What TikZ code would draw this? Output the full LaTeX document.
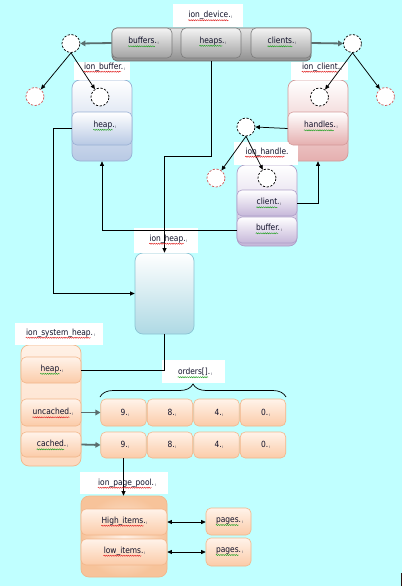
\documentclass[tikz,border=0pt]{standalone}
\usepackage{fontspec}
\setmainfont{DejaVu Sans}[FakeStretch=0.88]
\usetikzlibrary{arrows.meta,decorations.pathreplacing,decorations.pathmorphing}
\definecolor{bg}{HTML}{C0FFFF}
\definecolor{txt}{HTML}{101028}
\definecolor{mkgray}{HTML}{505060}
\definecolor{wred}{HTML}{E02020}
\definecolor{wgreen}{HTML}{20A020}
\definecolor{agray}{HTML}{5A6E6E}
\definecolor{redc}{HTML}{D05858}
\definecolor{bluebot}{HTML}{B8C9E4}
\definecolor{blueedge}{HTML}{98B0D4}
\definecolor{pinkbot}{HTML}{E5AFAF}
\definecolor{pinkedge}{HTML}{D39A9A}
\definecolor{purpbot}{HTML}{C6B7D9}
\definecolor{purpedge}{HTML}{AE9FC9}
\definecolor{tealbot}{HTML}{AED9E4}
\definecolor{tealedge}{HTML}{8AC4D4}
\definecolor{orgtop}{HTML}{FFF3EA}
\definecolor{orgbot}{HTML}{FBCBA8}
\definecolor{orgedge}{HTML}{F2B68A}
\definecolor{systop}{HTML}{FFF1E6}
\definecolor{sysbot}{HTML}{FCD9BF}
\definecolor{poolin}{HTML}{FEF0E6}
\definecolor{poolout}{HTML}{F7C39A}
\definecolor{gbartop}{HTML}{E6E6E6}
\definecolor{gbarbot}{HTML}{8E8E8E}
\definecolor{gbaredge}{HTML}{6E6E6E}
\definecolor{gintop}{HTML}{F4F4F4}
\definecolor{ginbot}{HTML}{A2A2A2}
\definecolor{ginedge}{HTML}{7A7A7A}
\definecolor{artefact}{HTML}{301010}
\newcommand{\mk}{\kern0.7pt\raisebox{-0.8pt}{\fontsize{4.5}{4.5}\selectfont\color{mkgray}ı}}
\begin{document}
\begin{tikzpicture}[x=1pt,y=-1pt,
  tx/.style={inner sep=0.4pt, font=\fontsize{8.5}{9.5}\selectfont, text=txt},
  wavyline/.style={decorate,decoration={snake,amplitude=0.55pt,segment length=2.2pt},line width=0.45pt},
  wv/.style={append after command={([yshift=-2.5pt,xshift=0.3pt]\tikzlastnode.base west) edge[wavyline,draw=#1] ([yshift=-2.5pt,xshift=-4.5pt]\tikzlastnode.base east)}},
  lab/.style={fill=white, draw=none, inner sep=0pt},
  cont/.style n args={3}{draw=#1, top color=#2, bottom color=#3, rounded corners=8pt, line width=0.7pt, inner sep=0pt},
  inbox/.style n args={3}{draw=#1, top color=#2, bottom color=#3, rounded corners=5pt, line width=0.6pt, inner sep=0pt},
  dcirc/.style={circle, draw=black, dash pattern=on 2.2pt off 1.6pt, fill=white, minimum size=18pt, inner sep=0pt, line width=0.7pt},
  rcirc/.style={dcirc, draw=redc},
  blk/.style={draw=black, line width=0.75pt, -{Triangle[length=4.5pt,width=4pt]}},
  blkline/.style={draw=black, line width=0.75pt},
  dbl/.style={draw=black, line width=0.75pt, {Triangle[length=4.5pt,width=4pt]}-{Triangle[length=4.5pt,width=4pt]}},
  garr/.style={draw=agray, line width=1.8pt, -{Triangle[length=5pt,width=5.5pt]}},
]
\fill[bg] (0,0) rectangle (402,586);
\useasboundingbox (0,0) rectangle (402,586);
\fill[artefact] (400.5,573) rectangle (402,586);

% containers
\node[cont={gbaredge}{gbartop}{gbarbot}, rounded corners=5pt, minimum width=199pt, minimum height=33pt] (idev) at (211.5,44.5) {};
\node[cont={blueedge}{white}{bluebot}, minimum width=60pt, minimum height=81pt] (ibuf) at (102,120.5) {};
\node[cont={pinkedge}{white}{pinkbot}, minimum width=60pt, minimum height=81pt] (icli) at (318,120.5) {};
\node[cont={purpedge}{white}{purpbot}, minimum width=60pt, minimum height=81pt] (ihdl) at (267,205.5) {};
\node[cont={tealedge}{white}{tealbot}, minimum width=59pt, minimum height=81pt] (iheap) at (164.5,293.5) {};
\node[cont={orgedge}{systop}{sysbot}, minimum width=60pt, minimum height=121pt] (isys) at (51,405.5) {};
\node[draw=orgedge, inner color=poolin, outer color=poolout, rounded corners=8pt, line width=0.7pt, inner sep=0pt, minimum width=86pt, minimum height=81pt] (ipool) at (124,536.5) {};

% labels
\node[lab, minimum width=70pt, minimum height=23pt] (Ldev) at (208,15.5) {};
\node[lab, minimum width=56pt, minimum height=18pt] (Lbuf) at (102,71) {};
\node[lab, minimum width=57pt, minimum height=18pt] (Lcli) at (319.5,71) {};
\node[lab, minimum width=64pt, minimum height=23pt] (Lhdl) at (266,153.5) {};
\node[lab, minimum width=64pt, minimum height=25pt] (Lheap) at (166,240.5) {};
\node[lab, minimum width=88pt, minimum height=22pt] (Lsys) at (59,334) {};
\node[lab, minimum width=63pt, minimum height=23pt] (Lord) at (193.5,371.5) {};
\node[lab, minimum width=88pt, minimum height=22pt] (Lpool) at (124,483) {};

% inner boxes
\node[inbox={ginedge}{gintop}{ginbot}, minimum width=60pt, minimum height=30pt] (buffers) at (142,43) {};
\node[inbox={ginedge}{gintop}{ginbot}, minimum width=60pt, minimum height=30pt] (heaps) at (211,43) {};
\node[inbox={ginedge}{gintop}{ginbot}, minimum width=60pt, minimum height=30pt] (clients) at (281,43) {};
\node[inbox={blueedge}{white}{bluebot}, minimum width=60pt, minimum height=33pt] (bheap) at (102,128.5) {};
\node[inbox={pinkedge}{white}{pinkbot}, minimum width=60pt, minimum height=33pt] (handles) at (318,128.5) {};
\node[inbox={purpedge}{white}{purpbot}, minimum width=60pt, minimum height=26pt] (client) at (267,203) {};
\node[inbox={purpedge}{white}{purpbot}, minimum width=60pt, minimum height=26pt] (buffer) at (267,230) {};
\node[inbox={orgedge}{orgtop}{orgbot}, minimum width=60pt, minimum height=26pt] (sheap) at (51,370) {};
\node[inbox={orgedge}{orgtop}{orgbot}, minimum width=60pt, minimum height=27pt] (uncached) at (51,412.5) {};
\node[inbox={orgedge}{orgtop}{orgbot}, minimum width=60pt, minimum height=25pt] (cached) at (51,444.5) {};
\foreach \n/\x in {9/123.5,8/170,4/216.5,0/263}{
  \node[inbox={orgedge}{orgtop}{orgbot}, minimum width=45.5pt, minimum height=27pt] (u\n) at (\x,412.5) {};
  \node[inbox={orgedge}{orgtop}{orgbot}, minimum width=45.5pt, minimum height=26pt] (c\n) at (\x,445) {};
}
\node[inbox={orgedge}{orgtop}{orgbot}, minimum width=86pt, minimum height=26pt] (high) at (124,522) {};
\node[inbox={orgedge}{orgtop}{orgbot}, minimum width=86pt, minimum height=26pt] (low) at (124,552) {};
\node[inbox={orgedge}{orgtop}{orgbot}, minimum width=45pt, minimum height=27pt] (pg1) at (228.5,521.5) {};
\node[inbox={orgedge}{orgtop}{orgbot}, minimum width=45pt, minimum height=28pt] (pg2) at (228.5,552) {};

% circles
\node[dcirc] (cL) at (71,43.5) {};
\node[dcirc] (cR) at (352.5,43.5) {};
\node[rcirc] (rL) at (35,96.5) {};
\node[dcirc] (bIn) at (100,97) {};
\node[dcirc] (cIn) at (319.5,97) {};
\node[rcirc] (rR) at (385.5,96.5) {};
\node[dcirc] (cH) at (246,127) {};
\node[rcirc] (rH) at (216,178) {};
\node[dcirc] (hIn) at (267,178) {};

% brace
\coordinate (bl) at (100,397);
\coordinate (br) at (286,397);
\draw[decorate, decoration={brace, amplitude=13pt, aspect=0.5}, line width=0.7pt] (bl) -- (br);

% connectors
\draw[garr] (buffers.west) -- (cL.east);
\draw[garr] (clients.east) -- (cR.west);
\draw[blk] (cL.south) -- (rL);
\draw[blk] (cL.south) -- (bIn);
\draw[blk] (cR.south) -- (cIn);
\draw[blk] (cR.south) -- (rR);
\draw[blk] (handles.west) -- (cH.east);
\draw[blk] (cH.south) -- (rH);
\draw[blk] (cH.south) -- (hIn);
\draw[blk] (client.east) -| (icli.south);
\draw[blk] (buffer.west) -| (ibuf.south);
\draw[blk] (bheap.west) -- ++(-18,0) |- (iheap.west);
\draw[blk] (heaps |- idev.south) -- ++(0,95) -| (iheap.north);
\draw[blkline] (iheap.south) |- (sheap.east);
\draw[garr] (uncached.east) -- (u9.west);
\draw[garr] (cached.east) -- (c9.west);
\draw[blk] (c9.south) -- (ipool.north -| c9.south);
\draw[dbl] (high.east) -- (pg1.west |- high.east);
\draw[dbl] (low.east) -- (pg2.west |- low.east);

% texts
\node[tx, wv=wred] (t-dev) at (210.5,15.5) {ion\_device.\mk};
\node[tx, wv=wgreen] (t-buffers) at (143.5,41) {buffers.\mk};
\node[tx, wv=wgreen] (t-heaps) at (213,41) {heaps.\mk};
\node[tx, wv=wgreen] (t-clients) at (282,41) {clients.\mk};
\node[tx, wv=wred] (t-ibuf) at (104.5,67) {ion\_buffer.\mk};
\node[tx, wv=wgreen] (t-bheap) at (105,125) {heap.\mk};
\node[tx, wv=wred] (t-icli) at (322,67) {ion\_client.\mk};
\node[tx, wv=wgreen] (t-handles) at (321,125) {handles.\mk};
\node[tx, wv=wred] (t-ihdl) at (267,152) {ion\_handle.};
\node[tx, wv=wgreen] (t-client) at (269,202) {client.\mk};
\node[tx, wv=wgreen] (t-buffer) at (269,228) {buffer.\mk};
\node[tx, wv=wred] (t-iheap) at (168.5,239) {ion\_heap.\mk};
\node[tx, wv=wred] (t-isys) at (60.5,333) {ion\_system\_heap.\mk};
\node[tx, wv=wgreen] (t-sheap) at (52,369) {heap.\mk};
\node[tx, wv=wred] (t-uncached) at (53,412) {uncached.\mk};
\node[tx, wv=wgreen] (t-cached) at (52.5,444) {cached.\mk};
\node[tx, wv=wgreen] (t-orders) at (195,372) {orders[].\mk};
\foreach \n/\x in {9/125,8/172,4/219,0/265.5}{
  \node[tx] (tu\n) at (\x,412.5) {\n.\mk};
  \node[tx] (tc\n) at (\x,444.5) {\n.\mk};
}
\node[tx, wv=wred] (t-pool) at (127,483) {ion\_page\_pool.\mk};
\node[tx, wv=wred] (t-high) at (124.5,521) {High\_items.\mk};
\node[tx, wv=wred] (t-low) at (124.5,551) {low\_items.\mk};
\node[tx, wv=wgreen] (t-pg1) at (229.5,521) {pages.\mk};
\node[tx, wv=wgreen] (t-pg2) at (229.5,551) {pages.\mk};
\end{tikzpicture}
\end{document}
